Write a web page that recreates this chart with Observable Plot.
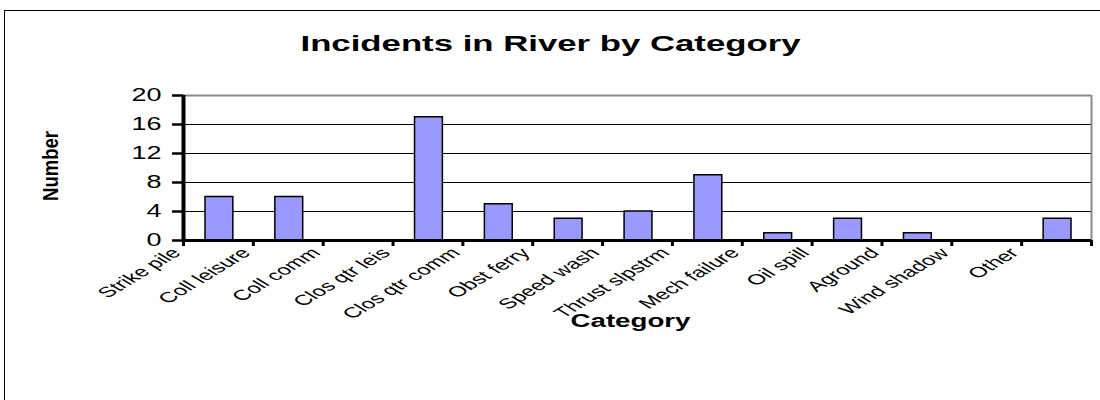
<!DOCTYPE html>
<html><head><meta charset="utf-8">
<script src="https://cdn.jsdelivr.net/npm/d3@7"></script>
<script src="https://cdn.jsdelivr.net/npm/@observablehq/plot@0.6"></script>
<style>
html,body{margin:0;padding:0;background:#fff;overflow:hidden;}
#wrap{position:relative;width:1100px;height:400px;overflow:hidden;}
#wrap svg{position:absolute;left:0;top:0;}
#border{position:absolute;left:4px;top:10px;width:1200px;height:500px;border:1px solid #000;box-sizing:border-box;pointer-events:none;z-index:2;}
</style></head><body>
<div id="wrap"><div id="border"></div></div>
<script>
const chartTitle = "Incidents in River by Category";
const xTitle = "Category";
const yTitle = "Number";
const categories = ["Strike pile","Coll leisure","Coll comm","Clos qtr leis","Clos qtr comm","Obst ferry","Speed wash","Thrust slpstrm","Mech failure","Oil spill","Aground","Wind shadow","Other"];
const counts = [6,6,0,17,5,3,4,9,1,3,1,0,3];
const yTicks = [0,4,8,12,16,20];

const data = categories.map((c,i)=>({category:c, index:i, count:counts[i]}));
const n = categories.length;
const font = "Arial, 'Liberation Sans', sans-serif";

const plot = Plot.plot({
  width:1100, height:400,
  marginLeft:183, marginRight:9, marginTop:95, marginBottom:160,
  style:{fontFamily:font, background:"transparent", color:"#000"},
  x:{type:"linear", domain:[0,n], axis:null, label:null},
  y:{domain:[0,20], axis:null, label:null},
  marks:[
    Plot.ruleY([4,8,12,16], {stroke:"#000", strokeWidth:1}),
    Plot.ruleY([20], {stroke:"#888", strokeWidth:2}),
    Plot.ruleX([n], {stroke:"#888", strokeWidth:2}),
    Plot.rectY(data.filter(d=>d.count>0), {x1:"index", x2:d=>d.index+1, y1:0, y2:"count", insetLeft:22, insetRight:20, fill:"#9999FF", stroke:"#000", strokeWidth:1.5}),
    Plot.axisX({ticks:d3.range(n+1), tickSize:6, tickFormat:()=>"", strokeWidth:3, label:null}),
    Plot.axisY(yTicks, {tickSize:11, tickPadding:11, fontSize:18, strokeWidth:2.5, label:null}),
    Plot.ruleY([0], {stroke:"#000", strokeWidth:3}),
    Plot.ruleX([0], {stroke:"#000", strokeWidth:4}),
    Plot.text(data, {x:d=>d.index+0.5, text:"category", frameAnchor:"bottom", lineAnchor:"middle", rotate:-45, textAnchor:"end", dx:-42, dy:10, fontSize:14.5, className:"xlab"}),
    Plot.text([chartTitle], {frameAnchor:"top", lineAnchor:"middle", dx:-87, dy:-52, fontSize:22, fontWeight:"bold", className:"ttl"}),
    Plot.text([xTitle], {frameAnchor:"bottom", lineAnchor:"middle", dx:-7, dy:81, fontSize:18, fontWeight:"bold", className:"xttl"}),
    Plot.text([yTitle], {frameAnchor:"left", lineAnchor:"middle", rotate:-90, textAnchor:"middle", dx:-132, dy:-2, fontSize:17, fontWeight:"bold", className:"yttl"})
  ]
});
document.getElementById("wrap").appendChild(plot);

function stretchBy(nodes, f){
  nodes.forEach(t=>{
    const L = t.getComputedTextLength();
    if (L>0){ t.setAttribute("textLength", (L*f).toFixed(1)); t.setAttribute("lengthAdjust","spacingAndGlyphs"); }
  });
}
function setLen(nodes, len){
  nodes.forEach(t=>{ t.setAttribute("textLength", len); t.setAttribute("lengthAdjust","spacingAndGlyphs"); });
}
function screenScale(nodes, sx){
  nodes.forEach(t=>{
    const tr = t.getAttribute("transform") || "";
    if (/rotate/.test(tr)) t.setAttribute("transform", tr.replace(/rotate/, `scale(${sx},1) rotate`));
  });
}
screenScale(plot.querySelectorAll(".xlab text"), 1.65);
stretchBy(plot.querySelectorAll('g[aria-label="y-axis tick label"] text'), 1.5);
setLen(plot.querySelectorAll(".ttl text"), 500);
setLen(plot.querySelectorAll(".xttl text"), 120);
setLen(plot.querySelectorAll(".yttl text"), 70);
screenScale(plot.querySelectorAll(".yttl text"), 1.25);
</script>
</body></html>
